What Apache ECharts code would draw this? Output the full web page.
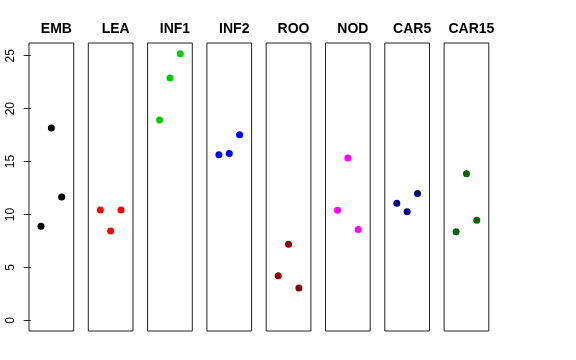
<!DOCTYPE html>
<html><head><meta charset="utf-8">
<script src="https://cdn.jsdelivr.net/npm/echarts@6/dist/echarts.min.js"></script>
<style>html,body{margin:0;padding:0;background:#fff}#c{width:576px;height:360px}</style>
</head><body><div id="c"></div>
<script>
const panels = ['EMB','LEA','INF1','INF2','ROO','NOD','CAR5','CAR15'];
const positions = [1, 2, 3];
const EMB = [8.89, 18.16, 11.66];
const LEA = [10.43, 8.45, 10.43];
const INF1 = [18.92, 22.89, 25.19];
const INF2 = [15.64, 15.76, 17.53];
const ROO = [4.22, 7.19, 3.06];
const NOD = [10.41, 15.33, 8.57];
const CAR5 = [11.07, 10.25, 11.98];
const CAR15 = [8.38, 13.84, 9.46];
const yTicks = [0, 5, 10, 15, 20, 25];
const colors = ['#000000','#FF0000','#00CD00','#0000FF','#8B0000','#FF00FF','#000080','#006400'];
const values = [EMB, LEA, INF1, INF2, ROO, NOD, CAR5, CAR15];

const font = '"Liberation Sans", Arial, sans-serif';
const left0 = 29, step = 59.3, pw = 44.7, ptop = 43, ph = 288;
const grids = [], xAxes = [], yAxes = [], series = [], titles = [];
panels.forEach((name, i) => {
  const l = left0 + i * step;
  grids.push({left: l, top: ptop, width: pw, height: ph, show: true, borderColor: '#222', borderWidth: 1, backgroundColor: 'transparent'});
  xAxes.push({type: 'value', gridIndex: i, min: -0.16, max: 4.16, show: false});
  yAxes.push({
    type: 'value', gridIndex: i, min: -1.008, max: 26.2,
    show: i === 0,
    splitLine: {show: false},
    axisLine: {show: false},
    axisTick: {show: i === 0, length: 7, lineStyle: {color: '#222'}, customValues: yTicks},
    axisLabel: {show: i === 0, rotate: 90, margin: 12, color: '#000', fontSize: 12, fontFamily: font, customValues: yTicks}
  });
  series.push({
    type: 'scatter', xAxisIndex: i, yAxisIndex: i, symbolSize: 7,
    itemStyle: {color: colors[i], opacity: 1},
    data: positions.map((x, k) => [x, values[i][k]]),
    silent: true
  });
  titles.push({text: name, left: l + pw / 2, top: 17, textAlign: 'center',
    textStyle: {fontSize: 14, fontWeight: 'bold', color: '#000', fontFamily: font}});
});

const chart = echarts.init(document.getElementById('c'), null, {renderer: 'canvas'});
chart.setOption({
  animation: false,
  backgroundColor: '#fff',
  title: titles,
  grid: grids,
  xAxis: xAxes,
  yAxis: yAxes,
  series: series
});
</script></body></html>
